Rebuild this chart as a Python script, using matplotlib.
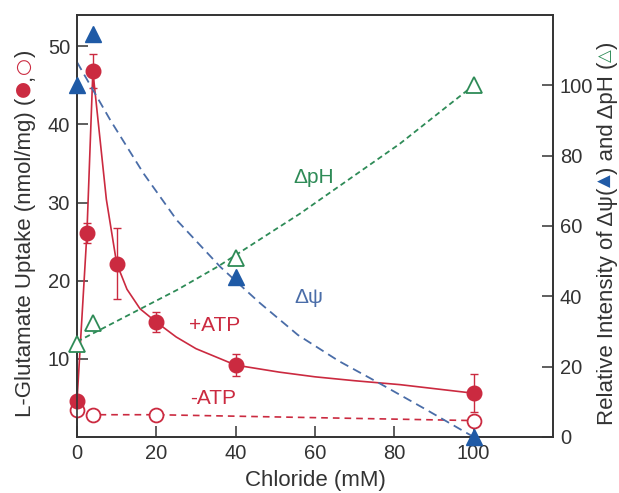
import numpy as np
import matplotlib
matplotlib.use('Agg')
import matplotlib.pyplot as plt

plt.rcParams['font.family'] = ['Liberation Sans', 'DejaVu Sans']

red = '#CB2A40'
blue = '#1F5AA6'
blue_line = '#4A6DA8'
green = '#2E8B57'
dark = '#333333'

# +ATP uptake (nmol/mg), filled circles
x_plus = [0, 2.5, 4, 10, 20, 40, 100]
y_plus = [4.6, 26.1, 46.8, 22.2, 14.7, 9.2, 5.6]
e_plus = [0.5, 1.3, 2.2, 4.5, 1.3, 1.4, 2.4]
# fitted curve through +ATP
x_plus_fit = [0, 2.5, 4, 7.4, 10, 12.6, 15.9, 20, 25, 30, 40, 51, 60, 70, 81.4, 100]
y_plus_fit = [4.6, 26.1, 46.8, 30.4, 22.2, 18.9, 16.4, 14.7, 12.8, 11.3, 9.2, 8.3, 7.7, 7.2, 6.7, 5.6]

# -ATP uptake, open circles
x_minus = [0, 4, 20, 100]
y_minus = [3.5, 2.85, 2.85, 2.1]

# relative intensity (right axis)
x_psi = [0, 4, 40, 100]
y_psi = [100, 114.5, 45.4, 0]
x_psi_fit = [0, 8.4, 16.8, 25.2, 36.1, 46, 55.7, 66, 76.2, 88, 100]
y_psi_fit = [106.6, 90.1, 74.9, 61.6, 48.4, 38.2, 29.0, 21.6, 15.3, 7.8, 0]

x_ph = [0, 4, 40, 100]
y_ph = [26.4, 32.5, 50.8, 100]
x_ph_fit = [0, 25.2, 35.7, 50.4, 56.2, 81.4, 100]
y_ph_fit = [27.1, 41.8, 48.6, 59.3, 63.5, 83.4, 100]

fig = plt.figure(figsize=(6.19, 4.93), dpi=100)
ax = fig.add_axes([0.1244, 0.1136, 0.8934 - 0.1244, 0.9696 - 0.1136])
ax2 = ax.twinx()

# left axis: glutamate uptake
ax.plot(x_plus_fit, y_plus_fit, color=red, lw=1.2, zorder=2)
ax.plot(x_minus, y_minus, color=red, lw=1.2, ls=(0, (4, 3)), zorder=2)
ax.errorbar(x_plus, y_plus, yerr=e_plus, fmt='o', color=red, ms=10.5,
            ecolor=red, elinewidth=1.0, capsize=3, capthick=1.0, zorder=4,
            clip_on=False)
ax.plot(x_minus, y_minus, 'o', ms=10, mfc='white', mec=red, mew=1.3,
        zorder=4, clip_on=False)

# right axis: relative intensity
ax2.plot(x_psi_fit, y_psi_fit, color=blue_line, lw=1.3, ls=(0, (5, 3)))
ax2.plot(x_ph_fit, y_ph_fit, color=green, lw=1.3, ls=(0, (3, 2)))
ax2.plot(x_psi, y_psi, '^', ms=11, color=blue, clip_on=False, zorder=5)
ax2.plot(x_ph, y_ph, '^', ms=11, mfc='white', mec=green, mew=1.3,
         clip_on=False, zorder=5)

ax.set_xlim(0, 120)
ax.set_ylim(0, 54)
ax2.set_ylim(0, 120)
ax.set_xticks([0, 20, 40, 60, 80, 100])
ax.set_yticks([10, 20, 30, 40, 50])
ax2.set_yticks([0, 20, 40, 60, 80, 100])

for a in (ax, ax2):
    a.tick_params(direction='in', length=8, width=1.1, color=dark,
                  labelsize=14.5, labelcolor=dark, pad=5)
    for s in a.spines.values():
        s.set_color(dark)
        s.set_linewidth(1.2)

ax.set_xlabel('Chloride (mM)', fontsize=16, color=dark, labelpad=5)

ax.text(34.7, 14.3, '+ATP', color=red, fontsize=15, ha='center', va='center')
ax.text(34.2, 4.9, '-ATP', color=red, fontsize=15, ha='center', va='center')
ax.text(59.6, 33.2, 'ΔpH', color=green, fontsize=15, ha='center', va='center')
ax.text(58.5, 17.9, 'Δψ', color=blue_line, fontsize=15, ha='center', va='center')


def stack_label(xb, ycf, parts):
    # pieces share one baseline at figure x = xb (dx in pixels), bottom to top
    r = fig.canvas.get_renderer()
    W, H = fig.bbox.width, fig.bbox.height
    txts = []
    for s, c, fs, fam, dx in parts:
        t = fig.text(xb, 0, s, color=c, rotation=90, rotation_mode='anchor',
                     ha='left', va='baseline', fontsize=fs)
        if fam:
            t.set_fontfamily(fam)
        txts.append((t, dx))
    hs = [t.get_window_extent(r).height for t, _ in txts]
    y = ycf * H - sum(hs) / 2
    for (t, dx), h in zip(txts, hs):
        t.set_position((xb + dx / W, y / H))
        y += h


stack_label(0.050, 0.527, [('L-Glutamate Uptake (nmol/mg) (', dark, 16, None, 0),
                           ('●', red, 14, 'DejaVu Sans', -3.5),
                           (',', dark, 16, None, 0),
                           ('○', red, 14, 'DejaVu Sans', -2.5),
                           (')', dark, 16, None, 0)])
stack_label(0.990, 0.527, [('Relative Intensity of Δψ(', dark, 16, None, 0),
                           ('▲', blue, 12, 'DejaVu Sans', -3),
                           (') and ΔpH (', dark, 16, None, 0),
                           ('△', green, 12, 'DejaVu Sans', -3),
                           (')', dark, 16, None, 0)])

fig.savefig('out.png', dpi=100)
